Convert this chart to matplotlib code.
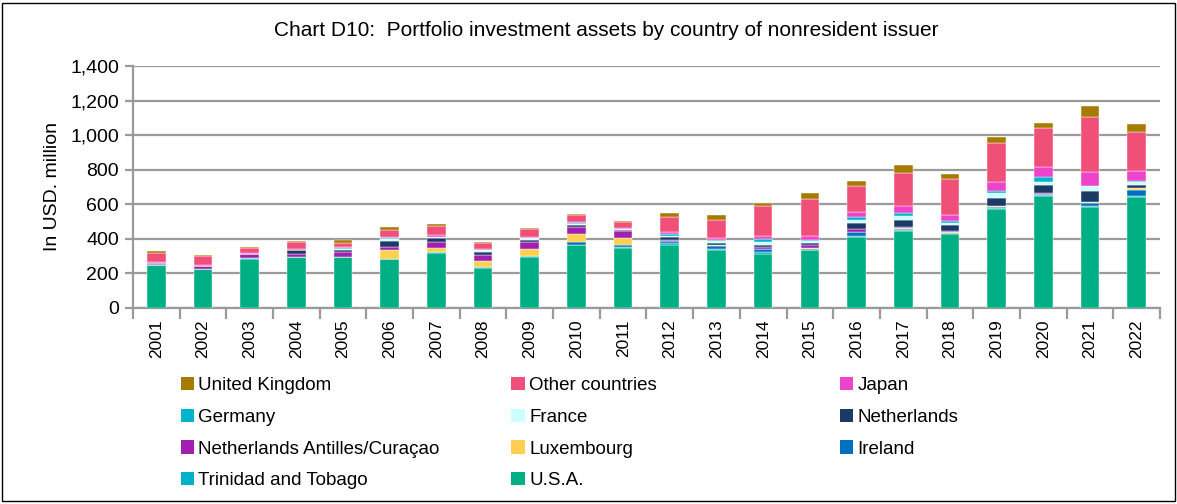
import numpy as np
import matplotlib
matplotlib.use('Agg')
import matplotlib.pyplot as plt
from matplotlib.patches import Rectangle, Patch

plt.rcParams['font.family'] = ['Liberation Sans', 'DejaVu Sans']

years = [str(y) for y in range(2001, 2023)]

# USD million, stacked bottom to top
usa = [247, 225, 285, 292, 295, 281, 319, 229, 296, 367, 348, 365, 336, 313, 333, 410, 445, 426, 572, 647, 585, 643]
trinidad = [0, 0, 3, 0, 2, 0, 4, 6, 2, 0, 5, 8, 8, 12, 3, 4, 6, 6, 4, 4, 6, 6]
ireland = [0, 0, 0, 0, 0, 0, 0, 0, 4, 13, 12, 12, 14, 14, 7, 25, 6, 4, 8, 8, 14, 36]
luxembourg = [0, 0, 0, 0, 0, 52, 23, 38, 42, 46, 42, 4, 4, 4, 2, 2, 7, 6, 6, 2, 8, 8]
antilles = [10, 18, 25, 23, 27, 17, 37, 35, 40, 40, 37, 6, 5, 8, 20, 13, 3, 2, 2, 2, 2, 3]
netherlands = [3, 2, 2, 21, 13, 37, 19, 13, 12, 15, 8, 14, 10, 14, 8, 38, 40, 35, 46, 46, 62, 14]
france = [1, 0, 0, 0, 6, 13, 6, 13, 6, 5, 4, 8, 12, 16, 12, 15, 27, 10, 29, 20, 31, 20]
germany = [0, 0, 0, 0, 4, 5, 5, 0, 3, 4, 0, 10, 2, 18, 10, 21, 13, 15, 10, 27, 0, 4]
japan = [3, 2, 4, 4, 8, 8, 8, 6, 8, 6, 6, 12, 12, 20, 21, 27, 44, 31, 54, 60, 81, 58]
other = [55, 53, 28, 39, 22, 40, 52, 33, 42, 44, 34, 90, 105, 170, 213, 152, 188, 210, 225, 226, 315, 225]
uk = [8, 4, 8, 8, 14, 17, 15, 10, 10, 5, 10, 21, 29, 17, 39, 25, 48, 31, 35, 29, 62, 46]

series = [
    ('U.S.A.', usa, '#00AF84'),
    ('Trinidad and Tobago', trinidad, '#00AFC8'),
    ('Ireland', ireland, '#0070C0'),
    ('Luxembourg', luxembourg, '#FFD04F'),
    ('Netherlands Antilles/Curaçao', antilles, '#A21FB0'),
    ('Netherlands', netherlands, '#1B3A66'),
    ('France', france, '#CCFFFF'),
    ('Germany', germany, '#00B4CC'),
    ('Japan', japan, '#EE44CC'),
    ('Other countries', other, '#F05077'),
    ('United Kingdom', uk, '#A67C00'),
]

fig = plt.figure(figsize=(11.77, 5.04), dpi=100)
ax = fig.add_axes([0.113, 0.389, 0.8725, 0.48])

x = np.arange(len(years))
bottom = np.zeros(len(years))
for name, vals, col in series:
    ax.bar(x, vals, 0.4, bottom=bottom, color=col, edgecolor='white',
           linewidth=0.3, zorder=3)
    bottom += np.array(vals)

grid_col = '#9a9a9a'
ax.set_ylim(0, 1400)
ax.set_yticks(range(0, 1401, 200))
ax.set_yticklabels([f'{v:,}' for v in range(0, 1401, 200)], fontsize=14)
ax.yaxis.grid(True, color=grid_col, linewidth=1.6, zorder=0)
ax.set_axisbelow(True)

ax.set_xlim(-0.5, len(years) - 0.5)
ax.set_xticks(x)
ax.set_xticklabels(years, rotation=90, fontsize=12.5)
ax.set_xticks(np.arange(-0.5, len(years)), minor=True)
ax.tick_params(axis='x', which='major', length=0, pad=8)
ax.tick_params(axis='x', which='minor', length=8, width=1.6, color=grid_col)
ax.tick_params(axis='y', length=6, width=1.6, color=grid_col, pad=4)

for s in ['top', 'right']:
    ax.spines[s].set_visible(False)
for s in ['left', 'bottom']:
    ax.spines[s].set_color(grid_col)
    ax.spines[s].set_linewidth(1.6)

ax.set_ylabel('In USD. million', fontsize=14, labelpad=7)

fig.text(0.515, 0.94, 'Chart D10:  Portfolio investment assets by country of nonresident issuer',
         ha='center', va='center', fontsize=15)

# legend: three columns, filled row by row from the top of the stack down
rev = series[::-1]
cols = [rev[0::3], rev[1::3], rev[2::3]]
col_x = [0.1535, 0.4345, 0.7135]
for cx, items in zip(col_x, cols):
    handles = [Patch(facecolor=c, edgecolor='none') for _, _, c in items]
    labels = [n for n, _, _ in items]
    fig.legend(handles, labels, loc='upper left', bbox_to_anchor=(cx, 0.252),
               frameon=False, fontsize=13.5, handlelength=0.7, handleheight=0.7,
               handletextpad=0.25, labelspacing=0.78, borderaxespad=0, borderpad=0)

fig.patches.append(Rectangle((0.002, 0.005), 0.996, 0.99, transform=fig.transFigure,
                             fill=False, edgecolor='black', linewidth=1))

fig.savefig('out.png', dpi=100)
